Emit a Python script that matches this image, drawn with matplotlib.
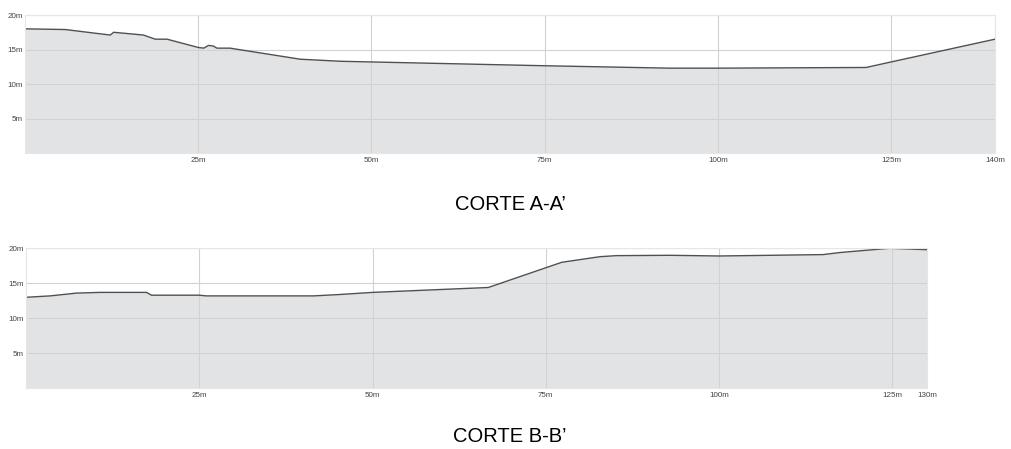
#!/usr/bin/env python3
"""Elevation profiles CORTE A-A' and CORTE B-B'."""

import matplotlib
matplotlib.use('Agg')
import matplotlib.pyplot as plt

# profile A-A' : distance [m] and elevation [m]
dist_a = [0, 5.8, 12.3, 12.8, 17.1, 18.8, 20.5, 25.0, 25.8, 26.5, 27.2, 27.7, 29.6,
          39.7, 45.5, 50, 75, 93, 100, 121.4, 125, 140]
elev_a = [18.0, 17.9, 17.1, 17.5, 17.1, 16.5, 16.5, 15.3, 15.2, 15.6, 15.5, 15.2, 15.2,
          13.6, 13.3, 13.2, 12.65, 12.3, 12.3, 12.4, 13.2, 16.5]

# profile B-B'
dist_b = [0, 3.5, 7.3, 10.7, 17.4, 18.1, 25, 26, 41.5, 45.3, 50, 66.7, 77.3,
          82.8, 85.2, 92.9, 100, 115, 117.5, 124.6, 130]
elev_b = [13.0, 13.2, 13.6, 13.7, 13.7, 13.3, 13.3, 13.2, 13.2, 13.4, 13.7, 14.4, 18.0,
          18.8, 18.95, 19.0, 18.9, 19.1, 19.4, 20.0, 19.8]

y_ticks = [5, 10, 15, 20]
x_ticks_a = [25, 50, 75, 100, 125, 140]
x_ticks_b = [25, 50, 75, 100, 125, 130]

FILL = '#e2e3e5'
LINE = '#505050'
GRID = '#d2d2d2'


def profile(ax, dist, elev, xmax, xticks):
    ax.fill_between(dist, 0, elev, color=FILL, linewidth=0)
    ax.plot(dist, elev, color=LINE, linewidth=1.0)
    ax.set_xlim(0, xmax)
    ax.set_ylim(0, 20)
    ax.set_yticks(y_ticks)
    ax.set_yticklabels([f'{v}m' for v in y_ticks])
    ax.set_xticks(xticks)
    ax.set_xticklabels([f'{v}m' for v in xticks])
    ax.tick_params(length=0, labelsize=5.8, colors='#444444', pad=3)
    ax.tick_params(axis='y', pad=1.5)
    ax.grid(True, color=GRID, linewidth=0.8)
    for s in ax.spines.values():
        s.set_color('#e6e6e6')
        s.set_linewidth(0.8)
    for gl in ax.get_xgridlines() + ax.get_ygridlines():
        gl.set_zorder(0.5)


plt.rcParams['font.family'] = ['Liberation Sans', 'DejaVu Sans']
fig = plt.figure(figsize=(10.12, 4.49), dpi=100)

ax1 = fig.add_axes([0.0247, 0.6592, 0.9585, 0.3073])
profile(ax1, dist_a, elev_a, 140, x_ticks_a)

ax2 = fig.add_axes([0.0257, 0.1352, 0.8903, 0.3118])
profile(ax2, dist_b, elev_b, 130, x_ticks_b)

fig.text(0.504, 1 - 205 / 449, 'CORTE A-A\u2019', ha='center', va='center', fontsize=14.5)
fig.text(0.504, 1 - 436 / 449, 'CORTE B-B\u2019', ha='center', va='center', fontsize=14.5)

fig.savefig('out.png', dpi=100)
